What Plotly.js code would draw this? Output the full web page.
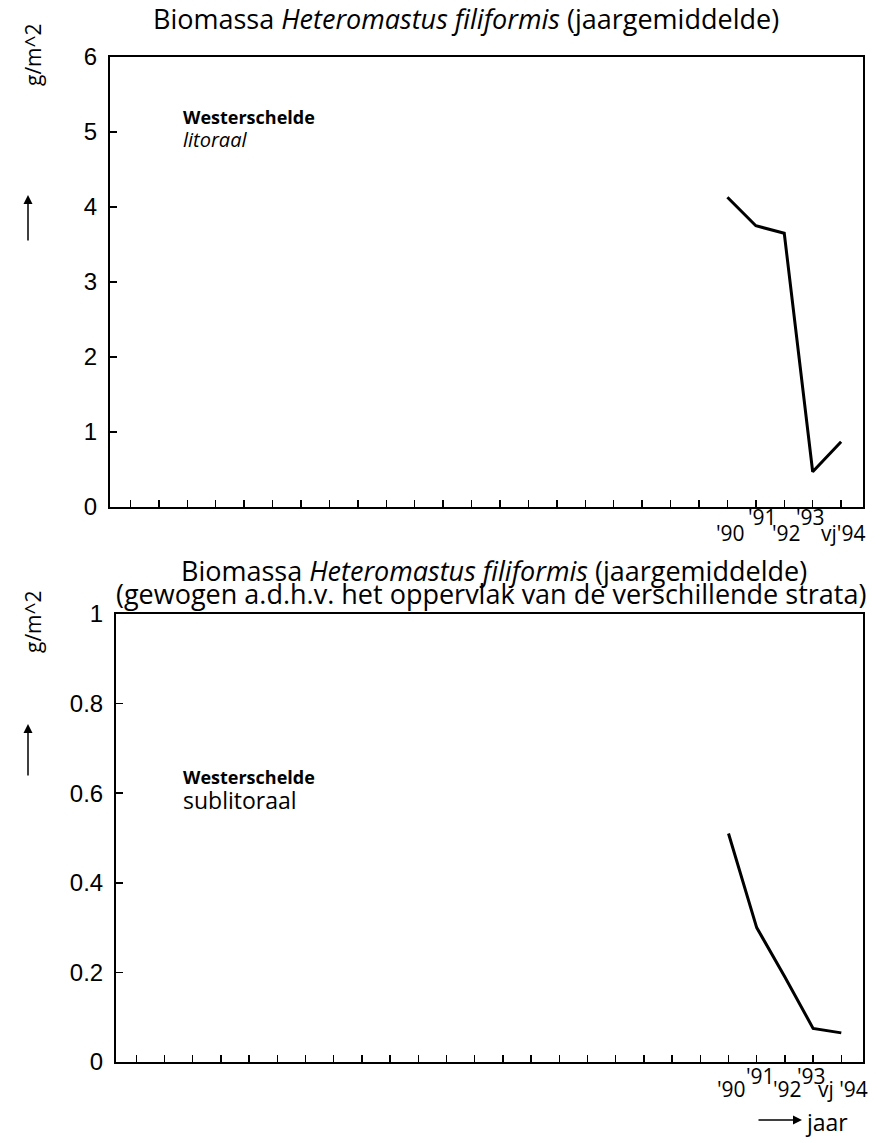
<!DOCTYPE html>
<html>
<head>
<meta charset="utf-8">
<script src="https://cdn.plot.ly/plotly-3.0.1.min.js"></script>
<style>
  html, body { margin: 0; padding: 0; background: #fff; }
  #chart { width: 884px; height: 1143px; }
</style>
</head>
<body>
<div id="chart"></div>
<script>
// ---- data ----
var years = [1990, 1991, 1992, 1993, 1994];
var yearLabelsTop = ["'90", "'91", "'92", "'93", "vj'94"];
var yearLabelsBottom = ["'90", "'91", "'92", "'93", "vj '94"];
var litoraal = [4.13, 3.75, 3.65, 0.47, 0.87];
var sublitoraal = [0.51, 0.30, 0.19, 0.075, 0.065];
var allYearTicks = [1969,1970,1971,1972,1973,1974,1975,1976,1977,1978,1979,1980,1981,
                    1982,1983,1984,1985,1986,1987,1988,1989,1990,1991,1992,1993,1994];
var yTicksTop = [0, 1, 2, 3, 4, 5, 6];
var yTicksBottom = [0, 0.2, 0.4, 0.6, 0.8, 1];
var yTickTextBottom = ["0", "0.2", "0.4", "0.6", "0.8", "1"];
var titleMain = "Biomassa <i>Heteromastus filiformis</i> (jaargemiddelde)";
var titleSub = "(gewogen a.d.h.v. het oppervlak van de verschillende strata)";

// ---- geometry helpers ----
var W = 884, H = 1143;
function px(x) { return x / W; }
function py(y) { return 1 - y / H; }

var textFont = "Open Sans, Noto Sans, sans-serif";
var tickFont = {family: "Liberation Sans, Arial, sans-serif", size: 24, color: "#000"};

var xCommon = {
  range: [1968.28, 1994.77],
  tickmode: "array", tickvals: allYearTicks,
  showticklabels: false,
  ticks: "inside", ticklen: 7, tickwidth: 1.5, tickcolor: "#000",
  showline: true, linecolor: "#000", linewidth: 2, mirror: true,
  showgrid: false, zeroline: false, fixedrange: true
};
var yCommon = {
  ticks: "inside", ticklen: 7, tickwidth: 1.5, tickcolor: "#000",
  showline: true, linecolor: "#000", linewidth: 2, mirror: true,
  showgrid: false, zeroline: false, tickfont: tickFont, ticklabelstandoff: 6,
  fixedrange: true
};

var traces = [
  {x: years, y: litoraal, xaxis: "x", yaxis: "y", mode: "lines",
   line: {color: "#000", width: 3}, hoverinfo: "skip"},
  {x: years, y: sublitoraal, xaxis: "x2", yaxis: "y2", mode: "lines",
   line: {color: "#000", width: 3}, hoverinfo: "skip"}
];

var annotations = [];
function txt(text, x, y, size, opts) {
  var a = {text: text, x: px(x), y: py(y), xref: "paper", yref: "paper",
           showarrow: false, font: {family: textFont, size: size, color: "#000"},
           xanchor: "center", yanchor: "middle"};
  for (var k in opts) a[k] = opts[k];
  annotations.push(a);
}
// titles
txt(titleMain, 466, 19, 27);
txt(titleMain, 494, 570, 27);
txt(titleSub, 491, 593, 27);
// inner labels
txt("<b>Westerschelde</b>", 181, 117, 18, {xanchor: "left"});
txt("<i>litoraal</i>", 181, 139, 20, {xanchor: "left"});
txt("<b>Westerschelde</b>", 181, 777, 18, {xanchor: "left"});
txt("sublitoraal", 181, 800, 23, {xanchor: "left"});
// y axis titles
txt("g/m^2", 33, 55, 21, {textangle: -90});
txt("g/m^2", 33, 622, 21, {textangle: -90});
// x axis word
txt("jaar", 826, 1122, 23);

// arrows
function arrow(x0, y0, x1, y1) {
  annotations.push({x: px(x1), y: py(y1), xref: "paper", yref: "paper",
    ax: px(x0), ay: py(y0), axref: "paper", ayref: "paper",
    text: "", showarrow: true, arrowhead: 2, arrowsize: 1.2, arrowwidth: 1.5,
    arrowcolor: "#000"});
}
arrow(28, 242, 28, 195);
arrow(28, 777, 28, 724);
arrow(757, 1120, 802, 1120);

// staggered x tick labels (from the label arrays, at the data x positions)
var rowTop = [533, 517, 533, 517, 533];
var rowBottom = [1089, 1076, 1089, 1076, 1089];
var shiftTop = [3, 7, 2, -2, 2];
var shiftBottom = [3, 4, 3, -2, 2];
for (var i = 0; i < years.length; i++) {
  annotations.push({text: yearLabelsTop[i], x: years[i], xref: "x", y: py(rowTop[i]), yref: "paper",
    xshift: shiftTop[i], showarrow: false, font: {family: textFont, size: 21, color: "#000"},
    xanchor: "center", yanchor: "middle"});
  annotations.push({text: yearLabelsBottom[i], x: years[i], xref: "x2", y: py(rowBottom[i]), yref: "paper",
    xshift: shiftBottom[i], showarrow: false, font: {family: textFont, size: 21, color: "#000"},
    xanchor: "center", yanchor: "middle"});
}

var layout = {
  width: W, height: H,
  margin: {l: 0, r: 0, t: 0, b: 0},
  paper_bgcolor: "#fff", plot_bgcolor: "#fff",
  showlegend: false,
  xaxis: Object.assign({}, xCommon, {domain: [px(110), px(863)], anchor: "y"}),
  yaxis: Object.assign({}, yCommon, {domain: [py(507), py(57)], anchor: "x",
    range: [0, 6], tickmode: "array", tickvals: yTicksTop}),
  xaxis2: Object.assign({}, xCommon, {domain: [px(116), px(863)], anchor: "y2"}),
  yaxis2: Object.assign({}, yCommon, {domain: [py(1062), py(614)], anchor: "x2",
    range: [0, 1], tickmode: "array", tickvals: yTicksBottom, ticktext: yTickTextBottom}),
  annotations: annotations
};

Plotly.newPlot("chart", traces, layout, {displayModeBar: false, staticPlot: true});
</script>
</body>
</html>
